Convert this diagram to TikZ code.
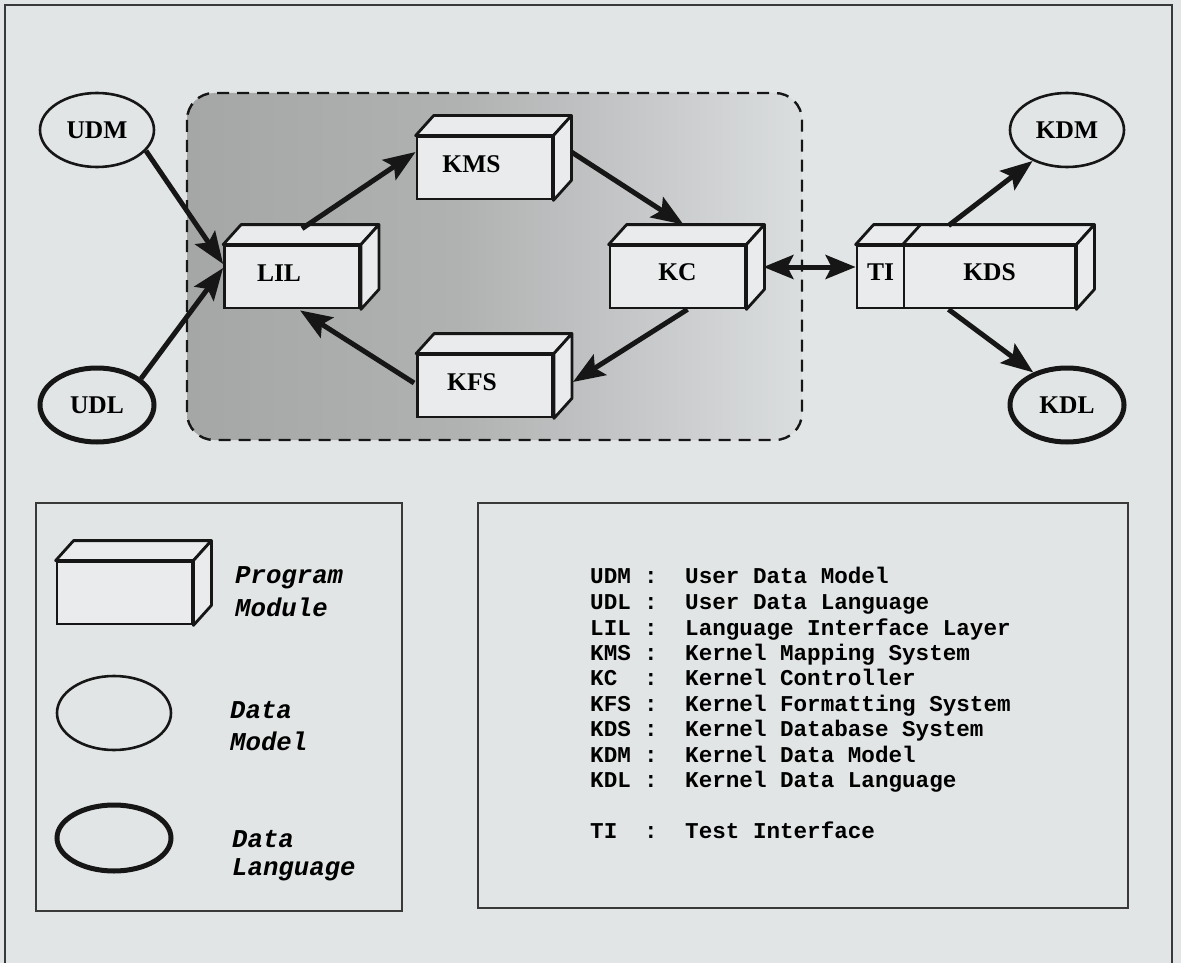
\documentclass[tikz,border=0pt]{standalone}
\usepackage{fontspec}
\setmainfont{Liberation Serif}
\newfontfamily\monofam{Liberation Mono}
\usetikzlibrary{shapes.geometric,arrows.meta}
\definecolor{bg}{RGB}{226,229,230}
\definecolor{boxfill}{RGB}{233,235,236}
\definecolor{ink}{RGB}{22,22,22}
\definecolor{shA}{RGB}{165,167,167}
\definecolor{shB}{RGB}{176,178,178}
\definecolor{shC}{RGB}{198,200,201}
\definecolor{shD}{RGB}{219,222,223}
\pgfdeclarehorizontalshading{kshade}{100bp}{color(0bp)=(shA); color(25bp)=(shA); color(47bp)=(shB); color(62bp)=(shC); color(75bp)=(shD); color(100bp)=(shD)}
\newcommand\lbl[1]{\raisebox{4pt}[\height][\depth]{#1}\kern26pt\relax}
\newcommand\clbl[1]{\raisebox{5pt}[\height][\depth]{#1}}
\newcommand\cubefaces[2]{%
  \draw[face] (#1.north west) -- ([shift={(18,-20)}]#1.north west) -- ([shift={(18,-20)}]#2.north east) -- (#2.north east) -- cycle;
  \draw[face] (#2.north east) -- ([shift={(18,-20)}]#2.north east) -- ([shift={(18,-20)}]#2.south east) -- (#2.south east) -- cycle;}
\begin{document}
\begin{tikzpicture}[x=1pt,y=-1pt,
  modbox/.style={draw=ink, line width=2.8pt, fill=boxfill, minimum width=135pt, minimum height=62pt, inner sep=0pt, font=\bfseries\fontsize{25.5}{25.5}\selectfont},
  face/.style={draw=ink, line width=2.8pt, fill=boxfill, line join=round},
  dm/.style={ellipse, draw=ink, line width=2.6pt, minimum width=114pt, minimum height=74pt, inner sep=0pt, font=\bfseries\fontsize{25.5}{25.5}\selectfont},
  dl/.style={dm, line width=5pt},
  arr/.style={draw=ink, line width=5pt, -{Stealth[length=32pt,width=24pt,inset=6pt]}},
  darr/.style={draw=ink, line width=5pt, {Stealth[length=30pt,width=24pt,inset=6pt]}-{Stealth[length=30pt,width=24pt,inset=6pt]}},
  legtxt/.style={anchor=base west, inner sep=0pt, font=\monofam\bfseries\itshape\fontsize{25.7}{25.7}\selectfont},
  keytxt/.style={anchor=base west, inner sep=0pt, font=\monofam\bfseries\fontsize{22.6}{22.6}\selectfont},
  frame/.style={draw=ink!85, line width=1.6pt}
]
\fill[bg] (0,0) rectangle (1181,963);
\useasboundingbox (0,0) rectangle (1181,963);
% outer frame
\draw[frame, line width=2pt] (5,963) -- (5,5) -- (1172,5) -- (1172,963);
% shaded dashed region
\shade[shading=kshade, rounded corners=27pt] (187,93) rectangle (802,440);
\draw[draw=ink, line width=2.4pt, dash pattern=on 12pt off 8pt, rounded corners=27pt] (187,93) rectangle (802,440);

% data models / languages
\node[dm] (UDM) at (97,130) {UDM};
\node[dl] (UDL) at (97,405) {UDL};
\node[dm] (KDM) at (1067,130) {KDM};
\node[dl] (KDL) at (1067,405) {KDL};

% modules
\node[modbox] (LIL) at (292,277) {\lbl{LIL}};
\cubefaces{LIL}{LIL}
\node[modbox] (KMS) at (484.5,168) {\lbl{KMS}};
\cubefaces{KMS}{KMS}
\node[modbox] (KFS) at (485,386) {\lbl{KFS}};
\cubefaces{KFS}{KFS}
\node[modbox] (KC) at (677.5,277) {\clbl{KC}};
\cubefaces{KC}{KC}
\node[modbox, minimum width=47pt] (TI) at (880.5,277) {\clbl{TI}};
\node[modbox, minimum width=171pt] (KDS) at (989.5,277) {\clbl{KDS}};
\cubefaces{TI}{KDS}
\draw[face] (KDS.north west) -- ([shift={(18,-20)}]KDS.north west);

% connectors
\draw[arr] (UDM.-23) -- ([shift={(0,-13)}]LIL.west);
\draw[arr] (UDL.31) -- ([shift={(0,-9)}]LIL.west);
\draw[arr] ([shift={(10,-16)}]LIL.north) -- ([shift={(0,-16)}]KMS.west);
\draw[arr] ([shift={(18,-16)}]KMS.east) -- ([shift={(6,-20)}]KC.north);
\draw[arr] ([shift={(10,0)}]KC.south) -- ([shift={(19,-4)}]KFS.east);
\draw[arr] ([shift={(-2,-3)}]KFS.west) -- ([shift={(8,1)}]LIL.south);
\draw[darr] ([shift={(17,-10)}]KC.east) -- ([shift={(0,-10)}]TI.west);
\draw[arr] ([shift={(-41,-19)}]KDS.north) -- (KDM.-138);
\draw[arr] ([shift={(-41,0)}]KDS.south) -- (KDL.136);

% legend left
\draw[frame] (36,503) rectangle (402,911);
\node[modbox, font=\normalsize] (LEGBOX) at (124.5,593) {};
\cubefaces{LEGBOX}{LEGBOX}
\node[legtxt] (lp1) at (235,583) {Program};
\node[legtxt] (lp2) at (235,616) {Module};
\node[dm] (LEGDM) at (114,713) {};
\node[legtxt] (lm1) at (230,718) {Data};
\node[legtxt] (lm2) at (230,750) {Model};
\node[dl, minimum height=66pt] (LEGDL) at (114,838) {};
\node[legtxt] (ll1) at (232,847) {Data};
\node[legtxt] (ll2) at (232,875) {Language};

% legend right
\draw[frame] (478,503) rectangle (1128,908);
\foreach \k/\d/\y [count=\i] in {UDM/User Data Model/583, UDL/User Data Language/609, LIL/Language Interface Layer/635, KMS/Kernel Mapping System/660, KC/Kernel Controller/685, KFS/Kernel Formatting System/711, KDS/Kernel Database System/736, KDM/Kernel Data Model/762, KDL/Kernel Data Language/787, TI/Test Interface/838}{
  \node[keytxt] (key\i) at (590,\y) {\k};
  \node[keytxt] (col\i) at (644,\y) {:};
  \node[keytxt] (def\i) at (685,\y) {\d};
}
\end{tikzpicture}
\end{document}
